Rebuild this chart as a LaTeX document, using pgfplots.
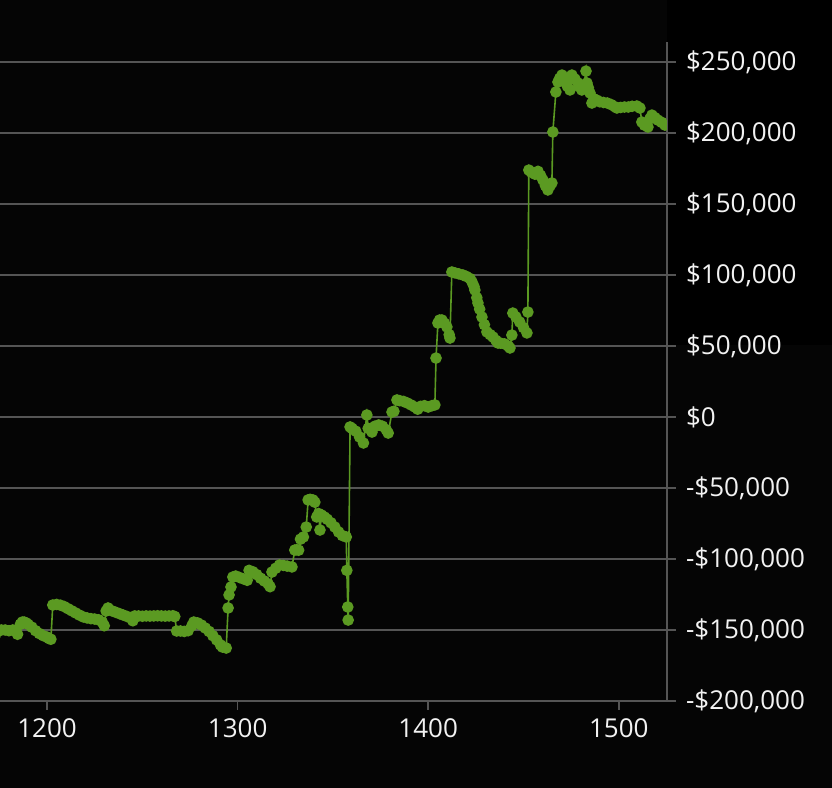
\documentclass[border=0pt]{standalone}
\usepackage{fontspec}
\setmainfont{Open Sans}
\usepackage{pgfplots}
\pgfplotsset{compat=1.18}
\definecolor{bg}{HTML}{050505}
\definecolor{gridc}{HTML}{555555}
\definecolor{lineg}{HTML}{5B9A22}
\definecolor{txt}{HTML}{F2F2F2}
\begin{document}
\begin{tikzpicture}
\path[use as bounding box, fill=bg] (0,-43.5pt) rectangle (416pt,350.5pt);
\fill[black] (333.5pt,178pt) rectangle (416pt,350.5pt);
\begin{axis}[
  at={(0,0)}, anchor=south west,
  scale only axis, width=333.5pt, height=329.5pt,
  xmin=1175.3, xmax=1525.3, ymin=-200000, ymax=264085,
  axis x line*=bottom, axis y line*=right,
  axis line style={gridc, line width=0.8pt},
  scaled y ticks=false, scaled x ticks=false,
  xtick={1200,1300,1400,1500},
  xticklabels={1200,1300,1400,1500},
  ytick={-200000,-150000,-100000,-50000,0,50000,100000,150000,200000,250000},
  yticklabels={{-\$200,000},{-\$150,000},{-\$100,000},{-\$50,000},{\$0},{\$50,000},{\$100,000},{\$150,000},{\$200,000},{\$250,000}},
  tick align=outside, major tick length=4.5pt,
  tick style={gridc, line width=0.8pt},
  ymajorgrids, major grid style={gridc, line width=0.8pt},
  ticklabel style={font=\fontsize{13pt}{15pt}\selectfont, text=txt},
  yticklabel style={anchor=west, xshift=1.5pt},
  xticklabel style={yshift=-1pt},
  clip marker paths=true,
]
\addplot[color=lineg, line width=0.8pt, mark=*, mark size=2.5pt, mark options={fill=lineg, draw=none}] coordinates {
(1175,-155600)(1176,-150000)(1178,-150000)(1180,-150500)(1182,-150000)(1183.5,-151000)(1184.5,-153000)
(1186,-146000)(1187,-144400)(1188,-144400)(1189,-145000)(1190,-146000)(1192,-148000)(1194,-150500)
(1196,-152500)(1198,-154000)(1200,-155000)(1201,-156000)(1202,-156500)
(1203,-132400)(1205,-132000)(1207,-132500)(1209,-133500)(1211,-135000)(1213,-136500)(1215,-138000)
(1217,-139500)(1219,-140800)(1221,-141500)(1223,-142000)(1225,-142300)(1227,-142800)(1229,-144500)(1230,-147000)
(1231,-136600)(1232,-134500)(1234,-136500)(1236,-137500)(1238,-138500)(1240,-139500)(1242,-140500)
(1244,-141500)(1245,-143500)(1246,-140100)(1248,-140100)(1250,-140300)(1252,-140100)(1254,-140200)
(1256,-140100)(1258,-140000)(1260,-140100)(1262,-140200)(1264,-140100)(1266,-140000)(1267,-140500)
(1268,-150700)(1270,-150700)(1272,-151000)(1274,-150500)(1276,-147000)(1277,-144400)(1279,-145000)
(1281,-146500)(1283,-148600)(1285,-151000)(1287,-154000)(1289,-157000)(1291,-160500)(1292,-162000)(1294,-162700)
(1295,-134500)(1295.5,-125300)(1296.5,-119700)(1297.5,-112700)(1299,-112000)(1301,-113000)(1303,-114000)
(1305,-115000)(1306,-108000)(1308,-109000)(1310,-111000)(1312,-113500)(1314,-115500)(1316,-117500)(1317,-119500)
(1318,-109200)(1320,-106500)(1322,-104200)(1324,-104500)(1326,-105000)(1328.5,-105600)
(1330,-93700)(1331,-93500)(1332,-93800)(1333,-86000)(1334.5,-84500)(1336,-77500)
(1337,-58400)(1338,-58000)(1339.5,-58400)(1340.5,-60000)(1341.5,-70400)(1342.5,-68000)(1343.2,-79600)
(1344,-69000)(1345.5,-70400)(1347,-72000)(1349,-74500)(1351,-77500)(1353,-81000)(1355,-83500)(1357,-84500)
(1357.3,-108000)(1357.8,-133800)(1358,-143000)
(1359,-7000)(1360,-8000)(1362,-10000)(1364,-14100)(1366,-18300)(1367.8,1400)(1368.5,-8000)(1370.5,-10600)
(1372,-6500)(1374,-5600)(1376,-6500)(1378,-9000)(1379,-11300)
(1381,3500)(1382,4000)(1383.6,12000)(1385,11500)(1387,11000)(1389,9900)(1391,8500)(1393,7000)(1394.5,5500)
(1396,7500)(1398,8000)(1400,7000)(1402,8000)(1403.5,8500)
(1404.1,41500)(1405.1,66200)(1406,68300)(1407.2,68300)(1408.5,66000)(1409.8,63400)(1411,58000)(1411.4,55600)
(1412.4,102100)(1414,101500)(1416,100800)(1418.2,100000)(1420,99000)(1422,97500)(1423,95100)(1424,92000)
(1424.5,89400)(1425.5,84000)(1426.1,80300)(1427,76000)(1428.2,70400)(1429.5,65000)(1430.8,59900)(1432.5,58000)
(1434,56300)(1435.5,54000)(1436.6,52100)(1438,52000)(1440,51500)(1442,50000)(1442.9,48600)(1443.9,57700)
(1444.4,73200)(1446,70500)(1448,66900)(1450,63000)(1451.8,59200)(1452.3,73900)
(1452.8,173900)(1454,172500)(1456,171000)(1457.6,173000)(1459,170000)(1460.2,166900)(1461.5,163000)
(1462.8,159900)(1464,163000)(1464.9,164800)(1465.4,200700)(1467,228900)(1468.1,235900)(1469,238500)
(1470.2,240800)(1471,239000)(1471.7,237300)(1473,233000)(1474.4,230300)(1475.4,240800)(1477,238000)
(1478.6,235200)(1479.5,232500)(1480.6,230300)(1481.5,232000)(1482.8,243600)(1483.3,235200)(1484,232000)
(1484.9,228200)(1485.9,221100)(1487,224000)(1488.5,223100)(1490,222000)(1492,221500)(1494,221100)
(1496,220000)(1498,218500)(1499,217600)(1501,218000)(1503,218300)(1505,218300)(1507,218800)(1509.5,219000)
(1511.1,217600)(1512.1,207700)(1513.5,205500)(1515.3,204200)(1516.3,210000)(1517.4,212600)(1519,210800)
(1520.5,209100)(1522.5,207500)(1524.2,205600)
};
\end{axis}
\end{tikzpicture}
\end{document}
